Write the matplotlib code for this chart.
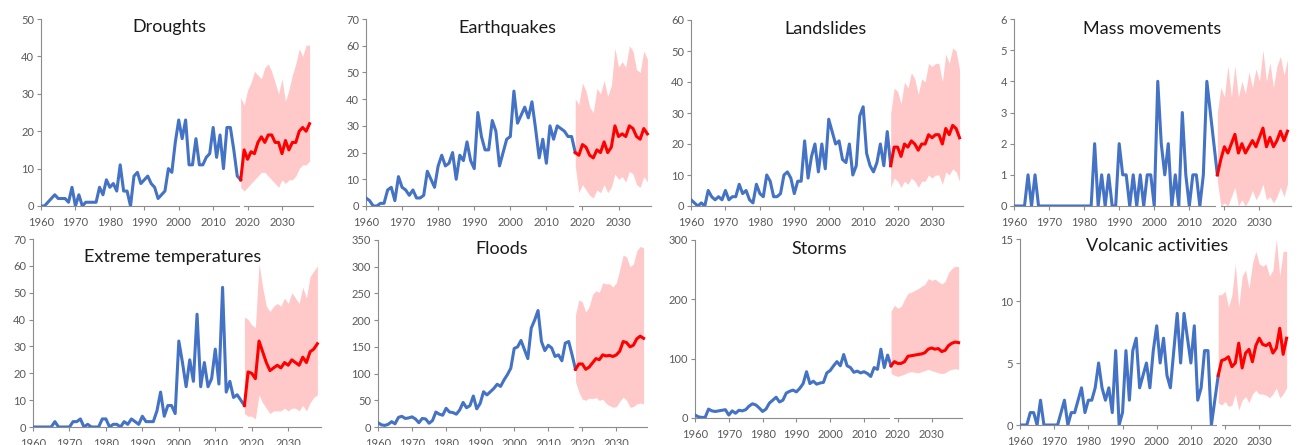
import numpy as np
import matplotlib
matplotlib.use("Agg")
import matplotlib.pyplot as plt

plt.rcParams['font.family'] = ['Lato', 'DejaVu Sans']

# ---------------- data ----------------
hist_years = list(range(1960, 2019))
fc_years = list(range(2018, 2039))

droughts_hist = [0, 0, 1, 2, 3, 2, 2, 2, 1, 5, 0, 3, 0, 1, 1, 1, 1, 5, 3, 7,
                 5, 6, 4, 11, 4, 4, 0, 8, 9, 6, 7, 8, 6, 5, 2, 3, 4, 10, 9, 17,
                 23, 18, 23, 11, 11, 18, 11, 11, 13, 14, 21, 13, 19, 10, 21, 21, 15, 8, 7]
droughts_fc = [7, 15, 12.5, 14.5, 14, 17, 18.5, 17, 19, 19, 17, 17, 14, 17.5, 15, 17, 17, 20, 21, 20, 22]
droughts_hi = [29, 27, 31, 33, 36, 35, 34, 37, 38, 36, 33, 30, 34, 28, 31, 35, 38, 42, 40, 43, 43]
droughts_lo = [5, 4, 5, 6, 7, 8, 9, 9, 8, 7, 6, 5, 7, 6, 7, 7, 8, 10, 11, 11, 12]

quakes_hist = [3, 2, 0, 0, 1, 1, 6, 7, 2, 11, 7, 6, 4, 6, 3, 3, 4, 13, 10, 7,
               15, 19, 15, 16, 20, 10, 19, 17, 24, 17, 14, 35, 26, 21, 21, 32, 28, 15, 20, 25,
               26, 43, 31, 34, 37, 33, 39, 29, 18, 25, 16, 30, 25, 30, 29, 28, 26, 26, 20]
quakes_fc = [20, 19, 23, 22, 19, 18, 21, 20, 24, 20, 22, 30, 26, 27, 26, 30, 29, 26, 25, 29, 27]
quakes_hi = [40, 38, 46, 43, 37, 35, 44, 42, 47, 41, 45, 59, 52, 54, 52, 60, 58, 51, 50, 58, 55]
quakes_lo = [15, 5, 8, 6, 4, 3, 6, 5, 8, 5, 7, 12, 10, 11, 9, 13, 12, 8, 7, 11, 9]

slides_hist = [2, 1, 0, 1, 0, 5, 3, 2, 3, 2, 5, 2, 3, 3, 7, 4, 5, 2, 1, 7,
               4, 3, 10, 8, 3, 3, 4, 10, 11, 9, 4, 8, 8, 21, 9, 16, 20, 11, 20, 12,
               28, 24, 20, 21, 15, 14, 20, 10, 13, 29, 32, 17, 13, 11, 14, 20, 13, 24, 13]
slides_fc = [13, 19, 19, 16, 20, 19, 21, 20, 18, 20, 20, 23, 22, 23, 23, 20, 25, 23, 26, 25, 22]
slides_hi = [30, 38, 37, 33, 40, 38, 43, 41, 36, 41, 40, 46, 45, 46, 46, 40, 49, 46, 51, 50, 44]
slides_lo = [6, 9, 8, 6, 8, 7, 9, 8, 6, 8, 8, 10, 9, 10, 10, 7, 11, 10, 12, 11, 8]

mass_hist = [0, 0, 0, 0, 1, 0, 1, 0, 0, 0, 0, 0, 0, 0, 0, 0, 0, 0, 0, 0,
             0, 0, 0, 2, 0, 1, 0, 1, 0, 0, 2, 1, 1, 0, 1, 0, 1, 0, 1, 1,
             0, 4, 2, 1, 2, 0, 1, 0, 3, 1, 0, 1, 1, 0, 1, 4, 3, 2, 1]
mass_fc = [1, 1.5, 1.9, 1.7, 2.0, 2.3, 1.7, 2.0, 1.7, 1.9, 2.1, 1.9, 2.2, 2.5, 1.9, 2.2, 1.9, 2.1, 2.4, 2.1, 2.4]
mass_hi = [3, 3.8, 3.5, 4.5, 3.5, 4.5, 3.5, 4.0, 3.6, 4.3, 3.8, 4.4, 4.0, 5.0, 4.0, 4.6, 3.8, 4.5, 4.8, 4.2, 4.7]
mass_lo = [0.8, 0, 0.1, 0, 0.3, 0.6, 0, 0.2, 0, 0.2, 0.5, 0.2, 0.4, 0.7, 0.2, 0.3, 0.1, 0.3, 0.6, 0.3, 0.7]

temps_hist = [0, 0, 0, 0, 0, 0, 2, 0, 0, 0, 0, 2, 2, 3, 0, 1, 0, 0, 0, 3,
              3, 0, 1, 1, 0, 2, 1, 3, 2, 1, 4, 2, 2, 2, 6, 13, 4, 8, 8, 5,
              32, 24, 15, 25, 17, 42, 15, 24, 15, 18, 29, 16, 52, 13, 17, 11, 12, 10, 8]
temps_fc = [8, 20.5, 20, 18, 32, 28, 24, 21, 22, 23, 22, 24, 23, 25, 24, 23, 26, 24, 28, 29, 31]
temps_hi = [41, 40, 38, 37, 61, 52, 45, 43, 45, 46, 45, 48, 46, 50, 48, 46, 52, 48, 56, 58, 60]
temps_lo = [5, 4, 4, 3, 12, 9, 7, 5, 6, 6, 6, 7, 6, 7, 7, 6, 8, 6, 9, 11, 12]

floods_hist = [8, 4, 3, 5, 10, 6, 18, 20, 16, 17, 19, 15, 8, 16, 15, 7, 12, 28, 24, 22,
               35, 28, 27, 24, 32, 46, 36, 40, 58, 34, 44, 66, 60, 66, 72, 80, 76, 88, 98, 110,
               147, 150, 162, 145, 128, 185, 200, 218, 160, 143, 153, 148, 132, 135, 124, 157, 160, 135, 108]
floods_fc = [108, 118, 118, 108, 112, 120, 128, 126, 135, 133, 134, 132, 135, 142, 160, 158, 150, 153, 165, 170, 166]
floods_hi = [210, 238, 234, 215, 225, 248, 255, 252, 270, 268, 268, 262, 270, 295, 322, 318, 300, 305, 330, 338, 335]
floods_lo = [85, 65, 52, 50, 54, 53, 55, 50, 52, 44, 40, 37, 38, 48, 56, 50, 37, 38, 43, 45, 43]

storms_hist = [5, 2, 1, 1, 15, 12, 11, 12, 13, 14, 5, 12, 8, 13, 12, 14, 20, 24, 22, 17,
               11, 15, 25, 30, 35, 27, 30, 42, 45, 47, 44, 50, 58, 78, 58, 62, 57, 59, 60, 76,
               80, 88, 95, 88, 107, 88, 85, 77, 79, 76, 78, 75, 70, 85, 82, 116, 85, 106, 88]
storms_fc = [88, 95, 92, 92, 95, 104, 105, 106, 107, 108, 110, 116, 118, 116, 117, 112, 114, 122, 126, 128, 127]
storms_hi = [180, 190, 185, 188, 200, 210, 212, 215, 218, 222, 225, 235, 232, 234, 230, 226, 230, 245, 252, 256, 255]
storms_lo = [75, 72, 70, 72, 74, 77, 78, 77, 76, 78, 80, 82, 80, 78, 76, 75, 76, 80, 82, 83, 82]

volc_hist = [0, 0, 0, 1, 1, 0, 2, 0, 0, 0, 0, 0, 1, 2, 0, 1, 1, 2, 3, 1,
             2, 2, 3, 5, 3, 2, 3, 1, 6, 0, 1, 6, 2, 6, 7, 3, 4, 5, 3, 6,
             8, 5, 7, 4, 3, 6, 9, 5, 9, 7, 5, 8, 2, 3, 6, 6, 0, 2, 4]
volc_fc = [4, 5.2, 5.3, 5.5, 4.7, 5.0, 6.6, 4.6, 5.8, 6.1, 5.1, 6.4, 7.0, 6.5, 6.4, 6.6, 5.8, 6.2, 7.8, 5.7, 7.0]
volc_hi = [10.5, 10.5, 10.8, 9.5, 10.5, 13, 9.5, 12, 12.5, 11, 13, 14, 13, 12.8, 13, 12, 12.5, 15, 12, 14, 14]
volc_lo = [1.8, 1.6, 1.9, 1.5, 1.6, 2.5, 1.2, 2.0, 2.3, 1.8, 2.5, 2.8, 2.5, 2.5, 2.4, 2.2, 2.5, 3.0, 2.2, 2.5, 3.0]

titles = ["Droughts", "Earthquakes", "Landslides", "Mass movements",
          "Extreme temperatures", "Floods", "Storms", "Volcanic activities"]
series = [
    (droughts_hist, droughts_fc, droughts_lo, droughts_hi, 50, 10),
    (quakes_hist, quakes_fc, quakes_lo, quakes_hi, 70, 10),
    (slides_hist, slides_fc, slides_lo, slides_hi, 60, 10),
    (mass_hist, mass_fc, mass_lo, mass_hi, 6, 1),
    (temps_hist, temps_fc, temps_lo, temps_hi, 70, 10),
    (floods_hist, floods_fc, floods_lo, floods_hi, 350, 50),
    (storms_hist, storms_fc, storms_lo, storms_hi, 300, 100),
    (volc_hist, volc_fc, volc_lo, volc_hi, 15, 5),
]
x_ticks = [1960, 1970, 1980, 1990, 2000, 2010, 2020, 2030]

# ---------------- layout (pixel boxes: left, right, top, bottom) ----------------
W, H = 1301, 445
boxes = [
    (41, 313, 19, 206), (366, 651, 19, 206), (691, 963, 20, 206), (1014, 1291, 19, 206),
    (33, 321, 239, 427), (378, 647, 240, 427), (695, 962, 240, 418), (1020, 1290, 239, 425),
]
title_pos = [(169, 27), (507, 28), (826, 29), (1152, 29),
             (173, 257), (502, 249), (819, 249), (1157, 246)]

BLUE = "#4472C4"
RED = "#FF0000"
BAND = "#FFC9C9"
AXIS = "#8C8C8C"
LABEL = "#595959"

fig = plt.figure(figsize=(W / 100, H / 100), dpi=100)

for (hist, fc, lo, hi, ymax, ystep), (l, r, t, b), title, (tx, ty) in zip(series, boxes, titles, title_pos):
    ax = fig.add_axes([l / W, 1 - b / H, (r - l) / W, (b - t) / H])
    ax.fill_between(fc_years, lo, hi, color=BAND, lw=0, zorder=1)
    ax.plot(hist_years, hist, color=BLUE, lw=2.2, solid_joinstyle='round', zorder=3)
    ax.plot(fc_years, fc, color=RED, lw=2.2, solid_joinstyle='round', zorder=3)

    ax.set_xlim(1960, 2039)
    ax.set_ylim(0, ymax)
    ax.set_yticks(np.arange(0, ymax + ystep / 2, ystep))
    ax.set_xticks(x_ticks)

    for side in ("top", "right", "bottom"):
        ax.spines[side].set_visible(False)
    ax.spines["left"].set_color(AXIS)
    ax.spines["left"].set_linewidth(0.8)

    # horizontal axis drawn in two pieces, broken where the forecast begins
    xa = ax.get_xaxis_transform()
    ax.plot([1960, 2017.4], [0, 0], transform=xa, color=AXIS, lw=0.8, clip_on=False, zorder=2)
    ax.plot([2019.0, 2039], [0, 0], transform=xa, color=AXIS, lw=0.8, clip_on=False, zorder=2)

    ax.tick_params(axis="both", colors=AXIS, labelcolor=LABEL, labelsize=8,
                   length=3, width=0.8, direction="out", pad=2)
    ax.tick_params(axis="x", pad=5)
    fig.text(tx / W, 1 - ty / H, title, ha="center", va="center",
             fontsize=13, color="#1a1a1a")

fig.savefig("out.png", dpi=100, facecolor="white")
